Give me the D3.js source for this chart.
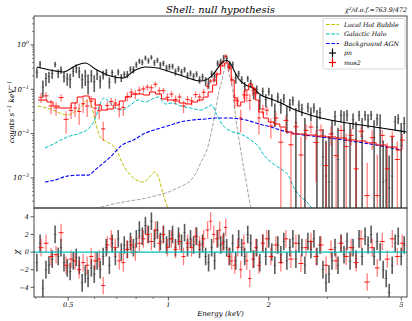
<!DOCTYPE html>
<html><head><meta charset="utf-8">
<script src="https://cdn.jsdelivr.net/npm/d3@7"></script>
<style>
body{margin:0;background:#fff}
svg{display:block}
text{font-family:"DejaVu Serif",serif;font-style:italic;fill:#000}
</style>
</head><body>
<svg id="c" width="412" height="321"></svg>
<script>
// ---------------- DATA ----------------
const pnEnergy=[0.403,0.412,0.420,0.429,0.438,0.448,0.457,0.467,0.476,0.486,
0.497,0.507,0.518,0.529,0.540,0.551,0.563,0.574,0.587,0.599,
0.611,0.624,0.637,0.651,0.665,0.678,0.693,0.707,0.722,0.737,
0.753,0.769,0.785,0.801,0.818,0.835,0.853,0.871,0.889,0.908,
0.927,0.946,0.966,0.987,1.007,1.029,1.050,1.072,1.095,1.118,
1.141,1.165,1.190,1.215,1.240,1.266,1.293,1.320,1.348,1.376,
1.405,1.435,1.465,1.496,1.527,1.559,1.592,1.625,1.659,1.694,
1.730,1.766,1.803,1.841,1.880,1.919,1.960,2.001,2.043,2.086,
2.130,2.175,2.220,2.267,2.315,2.363,2.413,2.464,2.515,2.568,
2.622,2.677,2.733,2.791,2.850,2.909,2.971,3.033,3.097,3.162,
3.228,3.296,3.365,3.436,3.508,3.582,3.657,3.734,3.813,3.893,
3.974,4.058,4.143,4.230,4.319,4.410,4.503,4.597,4.694,4.793,
4.893,4.996,5.101];
const pnRate=[0.242,0.370,0.113,0.175,0.194,0.226,0.366,0.230,0.275,0.192,
0.175,0.165,0.255,0.300,0.249,0.164,0.197,0.146,0.208,0.147,
0.218,0.154,0.214,0.242,0.144,0.237,0.173,0.245,0.183,0.217,
0.219,0.284,0.280,0.360,0.434,0.408,0.511,0.441,0.527,0.398,
0.455,0.355,0.385,0.304,0.325,0.331,0.248,0.290,0.244,0.279,
0.204,0.230,0.197,0.222,0.165,0.192,0.154,0.139,0.222,0.197,
0.388,0.419,0.516,0.490,0.352,0.363,0.179,0.225,0.165,0.117,
0.174,0.138,0.083,0.100,0.054,0.090,0.058,0.090,0.059,0.031,
0.067,0.044,0.063,0.026,0.046,0.056,0.018,0.044,0.036,0.0095,
0.040,0.029,0.039,0.014,0.030,0.003,0.0011,0.0008,0.0102,0.024,
0.0026,0.026,0.0118,0.0264,0.0079,0.0205,0.0066,0.026,0.0085,0.026,
0.0203,0.0264,0.0081,0.0216,0.0135,0.0008,0.0009,0.0006,0.0011,0.0186,
0.0217,0.0054,0.0168];
const pnError=[0.064,0.062,0.045,0.058,0.055,0.054,0.052,0.051,0.050,0.050,
0.055,0.059,0.064,0.068,0.071,0.060,0.078,0.070,0.065,0.060,
0.055,0.050,0.047,0.044,0.041,0.040,0.038,0.038,0.037,0.037,
0.041,0.046,0.051,0.055,0.058,0.060,0.064,0.063,0.062,0.061,
0.061,0.057,0.055,0.052,0.050,0.047,0.045,0.043,0.041,0.039,
0.037,0.035,0.034,0.033,0.031,0.032,0.034,0.036,0.040,0.049,
0.060,0.070,0.080,0.085,0.075,0.060,0.045,0.036,0.032,0.029,
0.027,0.026,0.024,0.022,0.020,0.019,0.019,0.018,0.018,0.017,
0.017,0.016,0.015,0.016,0.014,0.013,0.020,0.012,0.011,0.013,
0.010,0.010,0.0095,0.020,0.009,0.0095,0.0058,0.008,0.010,0.009,
0.011,0.008,0.020,0.0075,0.009,0.008,0.012,0.0068,0.014,0.0062,
0.007,0.006,0.012,0.0065,0.014,0.0062,0.004,0.0026,0.0075,0.0065,
0.0055,0.012,0.007];
const pnChi=[-1.2,1.0,-4.1,-2.0,-1.5,-0.8,2.0,-0.5,0.5,-1.2,
-1.8,-2.2,-1.0,-0.6,-1.5,-3.5,-2.5,-3.0,-1.8,-2.5,
-1.0,-2.0,-0.5,0.5,-1.5,1.0,-0.5,1.5,0.0,0.8,
0.3,1.2,0.5,1.5,2.5,1.8,3.0,2.0,3.5,1.5,
2.5,1.2,2.0,0.8,1.5,2.0,0.5,1.8,1.0,2.2,
0.5,1.5,0.8,1.8,0.3,1.0,-0.5,-1.2,0.5,-1.0,
1.5,0.8,1.2,0.5,-0.5,1.0,-1.0,1.5,0.5,-0.5,
2.0,1.0,-0.8,0.5,-1.2,1.0,-0.5,1.5,0.0,-1.5,
0.8,-0.3,1.2,-1.0,0.5,1.5,-0.8,1.0,0.5,-1.5,
1.2,0.3,1.5,-0.5,0.8,-2.0,-3.5,-2.5,-1.0,0.5,
-1.5,1.0,-0.3,1.2,-1.0,0.5,-0.8,1.5,-0.5,1.8,
0.8,2.0,-0.5,1.2,0.0,-2.0,-3.0,-4.6,-1.5,1.0,
1.8,-0.5,0.8];

const mosEnergy=[0.4147,0.4293,0.4444,0.4601,0.4763,0.4931,0.5105,0.5248,0.5396,0.5547,
0.5703,0.5864,0.6029,0.6198,0.6372,0.6557,0.6736,0.6928,0.7121,0.7323,
0.7528,0.7739,0.7958,0.8181,0.841,0.8646,0.8889,0.914,0.9396,0.9659,
0.9937,1.0215,1.0502,1.0797,1.1101,1.1413,1.1733,1.2063,1.2402,1.2751,
1.311,1.3386,1.3682,1.3974,1.425,1.4547,1.4854,1.5165,1.5491,1.5817,
1.6149,1.6479,1.6834,1.7187,1.7549,1.7918,1.8294,1.869,1.9205,1.9746,
2.0291,2.1018,2.1745,2.2522,2.3316,2.4139,2.4982,2.5875,2.6777,2.7736,
2.870,2.9727,3.076,3.1863,3.297,3.4154,3.534,3.6604,3.788,3.95,
4.0894,4.2336,4.3833,4.5374,4.6977,4.8632,5.0347];
const mosRate=[0.066,0.071,0.042,0.038,0.065,0.021,0.0334,0.0377,0.0316,0.0472,
0.0418,0.054,0.0377,0.0328,0.0128,0.043,0.053,0.049,0.036,0.039,
0.069,0.086,0.078,0.096,0.102,0.112,0.108,0.130,0.093,0.093,
0.066,0.078,0.059,0.067,0.042,0.059,0.055,0.076,0.067,0.086,
0.117,0.153,0.162,0.218,0.358,0.396,0.558,0.31,0.163,0.057,
0.055,0.0226,0.075,0.074,0.056,0.095,0.080,0.0225,0.036,0.0336,
0.0148,0.0224,0.0064,0.0199,0.0056,0.0143,0.0033,0.0118,0.0141,0.0063,
0.0120,0.0019,0.0098,0.0032,0.0118,0.0051,0.0091,0.0016,0.0113,0.0004,
0.0081,0.0004,0.0091,0.0016,0.0087,0.0026,0.0071];
const mosError=[0.017,0.016,0.015,0.013,0.012,0.011,0.012,0.014,0.016,0.018,
0.018,0.016,0.014,0.012,0.006,0.010,0.011,0.012,0.013,0.014,
0.016,0.017,0.018,0.018,0.018,0.018,0.019,0.019,0.018,0.015,
0.015,0.014,0.014,0.013,0.013,0.012,0.012,0.013,0.014,0.015,
0.017,0.019,0.024,0.034,0.045,0.060,0.065,0.060,0.040,0.020,
0.013,0.012,0.015,0.022,0.022,0.025,0.018,0.013,0.009,0.008,
0.007,0.007,0.007,0.005,0.006,0.0045,0.005,0.0045,0.004,0.0055,
0.004,0.0045,0.0045,0.005,0.0038,0.005,0.0038,0.0045,0.003,0.0018,
0.0038,0.003,0.003,0.0045,0.0025,0.004,0.0028];
const mosChi=[0.5,1.0,-0.5,-0.3,2.2,-1.5,-0.8,-1.0,-2.0,-1.2,
-1.5,-0.5,-1.0,-0.8,-3.8,0.8,1.5,0.5,-1.0,-1.2,
0.3,0.8,0.0,1.0,1.5,2.0,1.2,2.5,1.0,2.0,
0.5,1.5,0.3,1.2,-0.5,1.0,0.5,1.8,0.8,1.5,
2.5,3.5,2.0,1.5,2.5,1.0,2.8,-0.5,-1.0,-1.5,
0.5,-2.0,1.0,-1.0,-3.0,-0.8,0.5,-1.5,1.0,1.5,
-0.5,0.8,-1.2,1.5,-0.8,1.0,-1.3,0.5,1.2,-0.5,
0.8,-1.5,0.3,-1.0,1.0,-0.5,0.5,-1.2,1.5,-3.4,
0.5,-1.8,1.2,-0.8,1.5,-0.5,1.0];

// model curves
const pnModelEnergy=[0.403,0.441,0.483,0.525,0.563,0.603,0.669,0.732,0.796,0.853,0.927,1.014,1.126,1.249,1.339,1.415,1.455,1.496,1.538,1.582,1.626,1.707,1.792,1.894,2.03,2.176,2.332,2.499,2.871,3.298,3.789,4.353,5.0,5.19];
const pnModelRate=[0.319,0.273,0.246,0.336,0.392,0.287,0.200,0.180,0.273,0.319,0.303,0.246,0.190,0.154,0.190,0.319,0.413,0.447,0.372,0.246,0.171,0.125,0.107,0.0743,0.0604,0.0491,0.0378,0.0307,0.0225,0.0183,0.0156,0.0134,0.0114,0.0109];

const mosModelEnergy=[0.4061,0.4234,0.4414,0.4601,0.4797,0.5001,0.5213,0.5435,0.5665,0.5906,0.6157,0.6419,0.6691,0.6976,0.7272,0.7581,0.7903,0.8239,0.8589,0.8953,0.9334,0.9730,1.0143,1.0574,1.1023,1.1491,1.1979,1.2488,1.2929,1.3386,1.3762,1.4149,1.4547,1.4956,1.527,1.5591,1.5919,1.6254,1.6711,1.7181,1.7664,1.8035,1.8414,1.8932,1.9599,2.0291,2.1153,2.2051,2.2988,2.3964,2.4982,2.6777,2.870,3.076,3.297,3.534,3.788,4.060,4.352,4.664,5.000];
const mosModelRate=[0.0573,0.0573,0.0517,0.0420,0.0378,0.0378,0.0491,0.0670,0.0706,0.0604,0.0442,0.0341,0.0359,0.0442,0.0544,0.0670,0.0783,0.0783,0.0743,0.0869,0.0783,0.0604,0.0573,0.0544,0.0491,0.0466,0.0517,0.0573,0.0670,0.0869,0.125,0.221,0.336,0.392,0.319,0.162,0.0636,0.0420,0.0517,0.0964,0.132,0.107,0.0573,0.0307,0.0225,0.0183,0.0165,0.0141,0.0109,0.0098,0.0098,0.0093,0.00883,0.0084,0.00796,0.00718,0.0068,0.0062,0.00553,0.0050,0.00426];

const lhbEnergy=[0.405,0.4204,0.4507,0.4797,0.4966,0.5213,0.5435,0.5665,0.5786,0.5906,0.6072,0.624,0.6557,0.6928,0.7323,0.7849,0.841,0.883,0.9083,0.9334,0.9659,0.9937,1.0];
const lhbRate=[0.042,0.0399,0.0341,0.0277,0.0263,0.0307,0.0378,0.0544,0.0573,0.0378,0.0156,0.0084,0.00646,0.00473,0.00195,0.0010,0.00081,0.0011,0.00136,0.00105,0.00041,0.00021,0.00017];

const haloEnergy=[0.4263,0.457,0.4966,0.5435,0.5745,0.5989,0.6157,0.6289,0.6419,0.6604,0.6928,0.7272,0.769,0.812,0.853,0.8953,0.9334,0.980,1.0289,1.087,1.165,1.249,1.3125,1.3497,1.3974,1.4547,1.538,1.6479,1.7664,1.856,1.9325,2.029,2.176,2.2876,2.3832,2.499,2.6044,2.7118];
const haloRate=[0.00473,0.0061,0.0084,0.0103,0.0127,0.0193,0.0341,0.0544,0.0636,0.0544,0.0378,0.0341,0.0442,0.0573,0.0517,0.0604,0.0670,0.0466,0.0491,0.0420,0.0378,0.0341,0.0399,0.0442,0.0263,0.0156,0.0114,0.0098,0.00718,0.0053,0.00329,0.0023,0.00158,0.00116,0.00059,0.00037,0.00029,0.00019];

const agnEnergy=[0.4263,0.457,0.4966,0.5435,0.5735,0.6113,0.6691,0.7272,0.7849,0.853,0.927,1.0143,1.087,1.1817,1.293,1.386,1.505,1.707,1.869,2.029,2.221,2.434,2.870,3.534,4.205,5.0];
const agnRate=[0.00081,0.0009,0.00110,0.00116,0.00116,0.00167,0.00296,0.00553,0.00718,0.0103,0.0127,0.0156,0.0183,0.0203,0.0214,0.0225,0.0225,0.0203,0.0165,0.0141,0.0114,0.0098,0.0084,0.0068,0.00553,0.00426];

const alLineEnergy=[0.583,0.7024,0.883,1.0632,1.1902,1.249,1.3125,1.3682,1.4149,1.4547,1.4743,1.4956,1.5165,1.5591,1.5916,1.6479,1.707,1.7664,1.78];
const alLineRate=[0.00019,0.00027,0.00037,0.00059,0.00105,0.00217,0.0050,0.0203,0.0825,0.190,0.303,0.372,0.233,0.0964,0.0237,0.00426,0.00090,0.00022,0.00017];

const xMajorTicks=[0.5,1,2,5];
const xMajorLabels=["0.5","1","2","5"];
const xMinorTicks=[0.4,0.6,0.7,0.8,0.9,3,4];
const yMajorTicks=[1,0.1,0.01,0.001];
const yMajorExponents=["0","\u22121","\u22122","\u22123"];
const chiTicks=[4,2,0,-2,-4];
const chiTickLabels=["4","2","0","\u22122","\u22124"];
const legendLabels=["Local Hot Bubble","Galactic Halo","Background AGN","pn","mos2"];

// ---------------- LAYOUT ----------------
const L=34,R=407,T=16,M=208,B=297;
const svg=d3.select("#c");
const x=d3.scaleLog().domain([0.395,5.2]).range([L,R]);
const y=d3.scaleLog().domain([2.1e-4,4.5]).range([M,T]);
const yr=d3.scaleLinear().domain([-5.1,5.0]).range([B,M]);
const YMIN=1e-5;

const defs=svg.append("defs");
defs.append("clipPath").attr("id","cT").append("rect").attr("x",L).attr("y",T).attr("width",R-L).attr("height",M-T);
defs.append("clipPath").attr("id","cB").append("rect").attr("x",L).attr("y",M).attr("width",R-L).attr("height",B-M);

const gT=svg.append("g").attr("clip-path","url(#cT)");
const gB=svg.append("g").attr("clip-path","url(#cB)");

function bounds(E){
  return E.map((e,i)=>{
    const lo=i>0?Math.sqrt(E[i-1]*e):e*e/Math.sqrt(e*E[i+1]);
    const hi=i<E.length-1?Math.sqrt(e*E[i+1]):e*e/Math.sqrt(E[i-1]*e);
    return [lo,hi];
  });
}

const dash="3.7,1.6";
function comp(E,V,color,w){
  const line=d3.line().x(d=>x(d[0])).y(d=>y(Math.max(d[1],YMIN))).curve(d3.curveMonotoneX);
  gT.append("path").attr("d",line(d3.zip(E,V))).attr("fill","none")
    .attr("stroke",color).attr("stroke-width",w).attr("stroke-dasharray",dash);
}
comp(alLineEnergy,alLineRate,"#8c8c8c",0.8);
comp(lhbEnergy,lhbRate,"#bfbf00",1);
comp(haloEnergy,haloRate,"#00bfbf",1);
comp(agnEnergy,agnRate,"#0000ff",1.1);

function dataSet(E,V,Er,C,color,opY,opX,wY,wX){
  const bb=bounds(E);
  const g1=gT.append("g").attr("stroke",color);
  const g2=gB.append("g").attr("stroke",color);
  E.forEach((e,i)=>{
    const v=V[i],er=Er[i];
    g1.append("line").attr("x1",x(e)).attr("x2",x(e))
      .attr("y1",y(v+er)).attr("y2",y(Math.max(v-er,YMIN)))
      .attr("stroke-width",wY).attr("stroke-opacity",opY);
    g1.append("line").attr("x1",x(bb[i][0])).attr("x2",x(bb[i][1]))
      .attr("y1",y(v)).attr("y2",y(v)).attr("stroke-width",wX).attr("stroke-opacity",opX);
    g2.append("line").attr("x1",x(e)).attr("x2",x(e))
      .attr("y1",yr(C[i]+1)).attr("y2",yr(C[i]-1))
      .attr("stroke-width",wY).attr("stroke-opacity",opY);
    g2.append("line").attr("x1",x(bb[i][0])).attr("x2",x(bb[i][1]))
      .attr("y1",yr(C[i])).attr("y2",yr(C[i])).attr("stroke-width",wX).attr("stroke-opacity",opX);
  });
}
dataSet(pnEnergy,pnRate,pnError,pnChi,"#000",0.65,0.5,1.6,0.6);
dataSet(mosEnergy,mosRate,mosError,mosChi,"#ff0000",0.5,0.9,1.3,1);

// model lines
gT.append("path").attr("d",d3.line().x(d=>x(d[0])).y(d=>y(d[1])).curve(d3.curveMonotoneX)(d3.zip(pnModelEnergy,pnModelRate)))
  .attr("fill","none").attr("stroke","#000").attr("stroke-width",1.1);
gT.append("path").attr("d",d3.line().x(d=>x(d[0])).y(d=>y(d[1])).curve(d3.curveStep)(d3.zip(mosModelEnergy,mosModelRate)))
  .attr("fill","none").attr("stroke","#ff0000").attr("stroke-width",1);

// zero line in residuals
gB.append("line").attr("x1",L).attr("x2",R).attr("y1",yr(0)).attr("y2",yr(0))
  .attr("stroke","#00bfbf").attr("stroke-width",1.3);

// ---------------- AXES ----------------
const ax=svg.append("g").attr("stroke","#333").attr("fill","none");
ax.append("rect").attr("x",L).attr("y",T).attr("width",R-L).attr("height",M-T).attr("stroke-width",0.9);
ax.append("rect").attr("x",L).attr("y",M).attr("width",R-L).attr("height",B-M).attr("stroke-width",0.9);

const FS=6.5;
xMajorTicks.forEach((t,i)=>{
  ax.append("line").attr("x1",x(t)).attr("x2",x(t)).attr("y1",B).attr("y2",B+3.5).attr("stroke-width",0.8);
  svg.append("text").attr("x",x(t)).attr("y",B+9.5).attr("text-anchor","middle").attr("font-size",FS).text(xMajorLabels[i]);
});
xMinorTicks.forEach(t=>{
  ax.append("line").attr("x1",x(t)).attr("x2",x(t)).attr("y1",B).attr("y2",B+2).attr("stroke-width",0.6);
});
yMajorTicks.forEach((t,i)=>{
  ax.append("line").attr("x1",L-3.5).attr("x2",L).attr("y1",y(t)).attr("y2",y(t)).attr("stroke-width",0.8);
  const tx=svg.append("text").attr("x",L-5).attr("y",y(t)+2.5).attr("text-anchor","end").attr("font-size",FS+0.5);
  tx.append("tspan").text("10");
  tx.append("tspan").attr("dy",-3).attr("font-size",4.8).text(yMajorExponents[i]);
});
for(let d=-4;d<=0;d++){
  for(let k=2;k<=9;k++){
    const v=k*Math.pow(10,d);
    if(v>2.1e-4&&v<4.5){
      ax.append("line").attr("x1",L-2).attr("x2",L).attr("y1",y(v)).attr("y2",y(v)).attr("stroke-width",0.6);
    }
  }
}
chiTicks.forEach((t,i)=>{
  ax.append("line").attr("x1",L-3.5).attr("x2",L).attr("y1",yr(t)).attr("y2",yr(t)).attr("stroke-width",0.8);
  svg.append("text").attr("x",L-5).attr("y",yr(t)+2.3).attr("text-anchor","end").attr("font-size",FS).text(chiTickLabels[i]);
});

// labels
svg.append("text").attr("x",(L+R)/2).attr("y",12.5).attr("text-anchor","middle").attr("font-size",10).text("Shell: null hypothesis");
const cl=svg.append("text").attr("x",R).attr("y",12).attr("text-anchor","end").attr("font-size",6.3);
cl.append("tspan").text("\u03c7");
cl.append("tspan").attr("dy",-2.5).attr("font-size",4.5).text("2");
cl.append("tspan").attr("dy",2.5).text("/d.o.f.=763.9/472");
svg.append("text").attr("x",(L+R)/2).attr("y",316).attr("text-anchor","middle").attr("font-size",7).text("Energy (keV)");
const yl=svg.append("text").attr("transform","translate(13.5,112) rotate(-90)").attr("text-anchor","middle").attr("font-size",7.3);
yl.append("tspan").text("counts s");
yl.append("tspan").attr("dy",-3).attr("font-size",5.3).text("\u22121");
yl.append("tspan").attr("dy",3).text(" keV");
yl.append("tspan").attr("dy",-3).attr("font-size",5.3).text("\u22121");
svg.append("text").attr("transform","translate(18.5,252) rotate(-90)").attr("text-anchor","middle").attr("font-size",8).text("\u03c7");

// legend
const lg=svg.append("g");
lg.append("rect").attr("x",323).attr("y",18.5).attr("width",82).attr("height",50.5).attr("rx",1.5)
  .attr("fill","#fff").attr("fill-opacity",0.85).attr("stroke","#ccc").attr("stroke-width",0.8);
const legY=[24.5,34,43.5,53,62.5];
const legCol=["#bfbf00","#00bfbf","#0000ff"];
legCol.forEach((c,i)=>{
  lg.append("line").attr("x1",326).attr("x2",339).attr("y1",legY[i]).attr("y2",legY[i])
    .attr("stroke",c).attr("stroke-width",1).attr("stroke-dasharray",dash);
});
[["#000",3],["#ff0000",4]].forEach(([c,i])=>{
  lg.append("line").attr("x1",332.5).attr("x2",332.5).attr("y1",legY[i]-4.5).attr("y2",legY[i]+4.5).attr("stroke",c).attr("stroke-width",1.2);
  lg.append("line").attr("x1",329).attr("x2",336).attr("y1",legY[i]).attr("y2",legY[i]).attr("stroke",c).attr("stroke-width",1.2);
});
legendLabels.forEach((t,i)=>{
  lg.append("text").attr("x",344).attr("y",legY[i]+2.3).attr("font-size",6.2).text(t);
});
</script>
</body></html>
